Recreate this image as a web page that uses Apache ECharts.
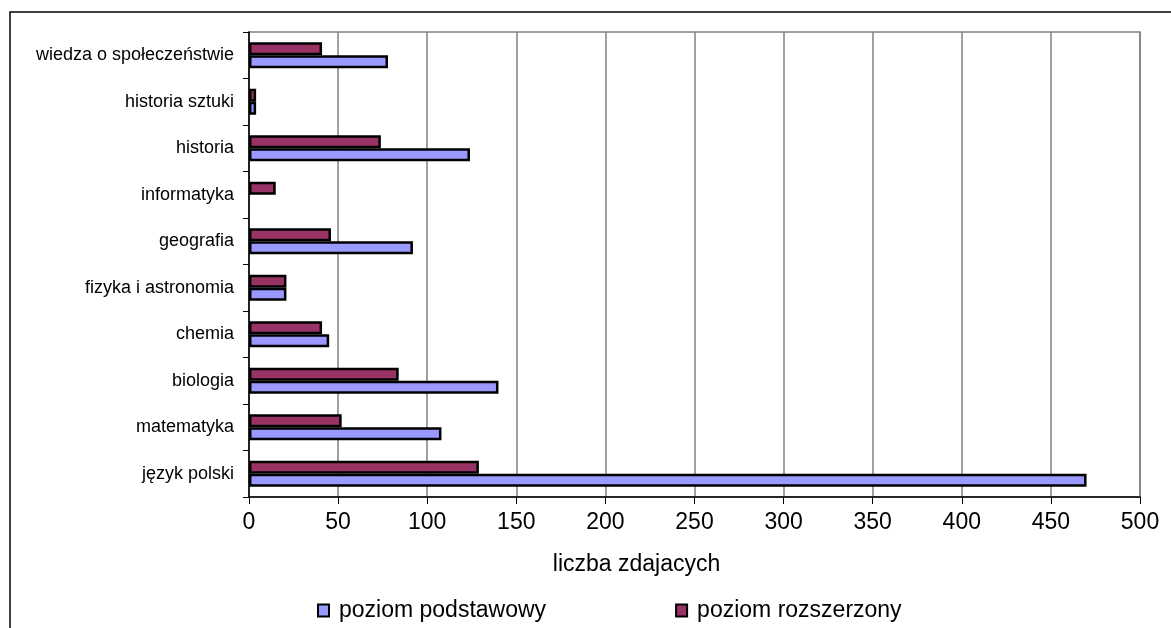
<!DOCTYPE html>
<html>
<head>
<meta charset="utf-8">
<script src="https://cdn.jsdelivr.net/npm/echarts@6/dist/echarts.min.js"></script>
<style>
  html, body { margin: 0; padding: 0; background: #fff; }
  #chart { width: 1171px; height: 628px; }
</style>
</head>
<body>
<div id="chart"></div>
<script>
// kategorie od dołu do góry
var subjects = [
    'język polski',
    'matematyka',
    'biologia',
    'chemia',
    'fizyka i astronomia',
    'geografia',
    'informatyka',
    'historia',
    'historia sztuki',
    'wiedza o społeczeństwie'
];
var basicLevel = [470, 108, 140, 45, 21, 92, 0, 124, 4, 78];
var extendedLevel = [129, 52, 84, 41, 21, 46, 15, 74, 4, 41];
var xTicks = [0, 50, 100, 150, 200, 250, 300, 350, 400, 450, 500];

var font = 'Liberation Sans, Arial, sans-serif';

// zero -> brak słupka (bez ramki)
function noZero(arr) {
    return arr.map(function (v) { return v === 0 ? '-' : v; });
}

var myChart = echarts.init(document.getElementById('chart'));
var options = {
    animation: false,
    textStyle: { fontFamily: font },
    graphic: [{
        type: 'rect',
        shape: { x: 10, y: 12, width: 1300, height: 700 },
        style: { fill: 'none', stroke: '#000', lineWidth: 1.5 },
        silent: true
    }],
    grid: {
        left: 249,
        right: 31,
        top: 32,
        bottom: 131,
        show: true,
        borderColor: '#808080',
        borderWidth: 1.5
    },
    legend: {
        left: 312,
        top: 594,
        itemWidth: 11,
        itemHeight: 12,
        itemGap: 129,
        icon: 'rect',
        data: ['poziom podstawowy', 'poziom rozszerzony'],
        itemStyle: { borderColor: '#000', borderWidth: 2 },
        textStyle: {
            fontFamily: font,
            fontSize: 23,
            color: '#000',
            padding: [0, 0, 0, 5]
        }
    },
    xAxis: {
        type: 'value',
        min: xTicks[0],
        max: xTicks[xTicks.length - 1],
        interval: 50,
        name: 'liczba zdajacych',
        nameLocation: 'middle',
        nameGap: 56,
        nameTextStyle: {
            fontSize: 23,
            color: '#000',
            padding: [0, 116, 0, 0]
        },
        axisLine: { show: true, lineStyle: { color: '#000', width: 1.5 } },
        axisTick: { show: true, length: 7, lineStyle: { color: '#000', width: 1 } },
        axisLabel: { fontSize: 23, color: '#000', margin: 14 },
        splitLine: { show: true, lineStyle: { color: '#808080', width: 1.5 } }
    },
    yAxis: {
        type: 'category',
        data: subjects,
        axisLine: { show: true, lineStyle: { color: '#000', width: 1.5 } },
        axisTick: { show: true, length: 6, lineStyle: { color: '#000', width: 1 } },
        axisLabel: { fontSize: 18, color: '#000', margin: 15 },
        splitLine: { show: false }
    },
    // rozszerzony pierwszy, żeby był nad podstawowym
    series: [
        {
            name: 'poziom rozszerzony',
            type: 'bar',
            data: noZero(extendedLevel),
            barWidth: 13,
            barGap: '0%',
            itemStyle: { color: '#993366', borderColor: '#000', borderWidth: 2.5 }
        },
        {
            name: 'poziom podstawowy',
            type: 'bar',
            data: noZero(basicLevel),
            barWidth: 13,
            barGap: '0%',
            itemStyle: { color: '#9999FF', borderColor: '#000', borderWidth: 2.5 }
        }
    ]
};
myChart.setOption(options);
window.addEventListener('resize', function () {
    myChart.resize();
});
</script>
</body>
</html>
